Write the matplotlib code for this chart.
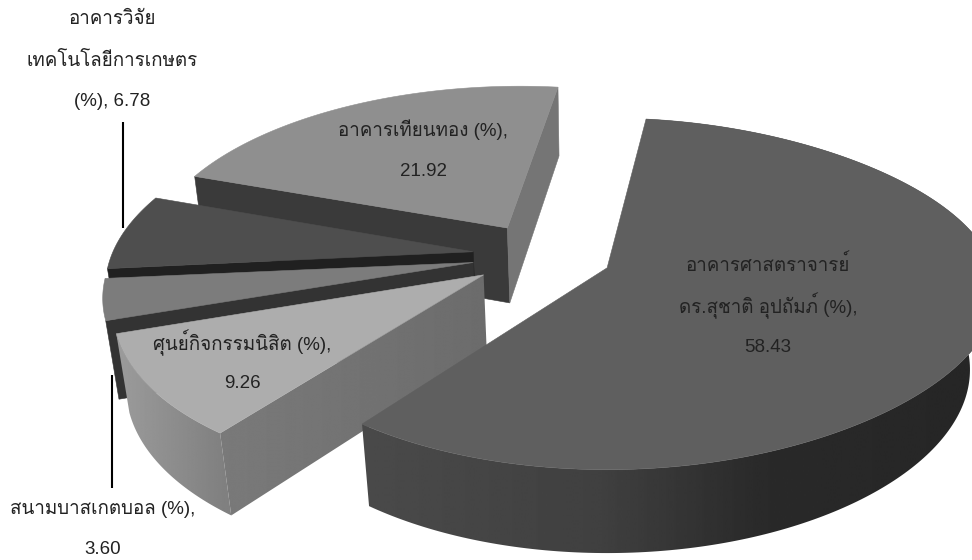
import numpy as np
import matplotlib
matplotlib.use("Agg")
import matplotlib.pyplot as plt
from matplotlib.patches import Polygon

plt.rcParams['font.family'] = ['Liberation Sans', 'Loma', 'DejaVu Sans']

# slices in drawing order round the pie, clockwise from start_angle
names = ["main", "activity", "basket", "research", "tian"]
values = [58.43, 9.26, 3.60, 6.78, 21.92]

label_lines = [
    ["อาคารศาสตราจารย์", "ดร.สุชาติ อุปถัมภ์ (%),", "58.43"],
    ["ศุนย์กิจกรรมนิสิต (%),", "9.26"],
    ["สนามบาสเกตบอล (%),", "3.60"],
    ["อาคารวิจัย", "เทคโนโลยีการเกษตร", "(%), 6.78"],
    ["อาคารเทียนทอง (%),", "21.92"],
]
label_pos = [(768, 265, 41), (242, 343, 40), (103, 510, 40), (112, 19, 41.5), (423, 130, 42)]

top_col = ["#5f5f5f", "#adadad", "#7c7c7c", "#4e4e4e", "#8f8f8f"]
radius = [1.0, 1.0, 1.01, 1.012, 1.012]
# small corrections to the slice edges, the old 3D pie is not a true circle
start_nudge = [0.0, 0.7, -0.4, -0.6, -1.3]
end_nudge = [0.7, -0.4, -1.0, -1.3, 0.0]
start_wall = [None, None, "#333333", "#202020", "#3a3a3a"]
end_wall = [None, None, None, None, "#757575"]
# grey stops against picture x for the shaded faces
rim_x = {0: [365, 600, 760, 972], 1: [115, 225]}
rim_g = {0: [0x4a, 0x40, 0x2a, 0x26], 1: [0x9c, 0x80]}
wall_x = {1: [220, 483]}
wall_g = {1: [0x7a, 0x6c]}

start_angle = 82.9
explode = 0.196
pie_center = (-0.181, 0.0753)


def project(u, v, d=0.0):
    # perspective view of the tilted pie, d=1 is the bottom face
    w = 1 + 0.148 * v + 0.026 * d
    stretch = 1 + 0.07 * max(u, 0) ** 2 * (1 - 0.7 * d)
    return 607 + 361 * u * stretch / w, 268 + (-172 * v + 78.5 * d) / w


def shaded(ax, pts, xs, gs, z):
    # polygon filled with a left to right grey ramp
    pts = np.array(pts)
    x0, x1 = pts[:, 0].min() - 2, pts[:, 0].max() + 2
    y0, y1 = pts[:, 1].min() - 2, pts[:, 1].max() + 2
    ramp = np.interp(np.linspace(x0, x1, 300), xs, gs).reshape(1, -1)
    im = ax.imshow(ramp, extent=[x0, x1, y1, y0], cmap="gray", vmin=0, vmax=255,
                   aspect="auto", zorder=z, interpolation="bilinear")
    im.set_clip_path(Polygon(pts, closed=True, transform=ax.transData))


def flat(ax, pts, col, z):
    ax.add_patch(Polygon(pts, closed=True, fc=col, ec=col, lw=0.4, zorder=z))


fig = plt.figure(figsize=(9.72, 5.6), dpi=100)
ax = fig.add_axes([0, 0, 1, 1])
ax.axis("off")

vals = np.array(values)
spans = vals / vals.sum() * 360
starts = start_angle - np.concatenate(([0], np.cumsum(spans)[:-1]))

z = 1
# back to front
for i in [4, 3, 2, 1, 0]:
    t0 = np.radians(starts[i])
    t1 = np.radians(starts[i] - spans[i])
    mid = (t0 + t1) / 2
    apex = (pie_center[0] + explode * np.cos(mid), pie_center[1] + explode * np.sin(mid))
    t = np.linspace(t0 + np.radians(start_nudge[i]), t1 + np.radians(end_nudge[i]), 240)
    arc_u = apex[0] + radius[i] * np.cos(t)
    arc_v = apex[1] + radius[i] * np.sin(t)

    if i in rim_x:
        rim = [project(a, b) for a, b in zip(arc_u, arc_v)]
        rim += [project(a, b, 1) for a, b in zip(arc_u[::-1], arc_v[::-1])]
        shaded(ax, rim, rim_x[i], rim_g[i], z)
        z += 1
    first = [project(*apex), project(arc_u[0], arc_v[0]),
             project(arc_u[0], arc_v[0], 1), project(*apex, 1)]
    if start_wall[i]:
        flat(ax, first, start_wall[i], z)
    if i in wall_x:
        shaded(ax, first, wall_x[i], wall_g[i], z)
    z += 1
    if end_wall[i]:
        last = [project(*apex), project(arc_u[-1], arc_v[-1]),
                project(arc_u[-1], arc_v[-1], 1), project(*apex, 1)]
        flat(ax, last, end_wall[i], z)
        z += 1
    top = [project(*apex)] + [project(a, b) for a, b in zip(arc_u, arc_v)]
    flat(ax, top, top_col[i], z)
    z += 1

# leader lines of the two outside labels
ax.plot([123, 123], [122, 228], color="black", lw=1.5, solid_capstyle="butt", zorder=z)
ax.plot([112, 112], [375, 488], color="black", lw=1.5, solid_capstyle="butt", zorder=z)

for lines, (x, y, step) in zip(label_lines, label_pos):
    for j, line in enumerate(lines):
        ax.text(x, y + j * step, line, ha="center", va="center", fontsize=13.5,
                color="#222222", zorder=z + 1)

ax.set_xlim(0, 972)
ax.set_ylim(560, 0)
fig.savefig("out.png", dpi=100)
